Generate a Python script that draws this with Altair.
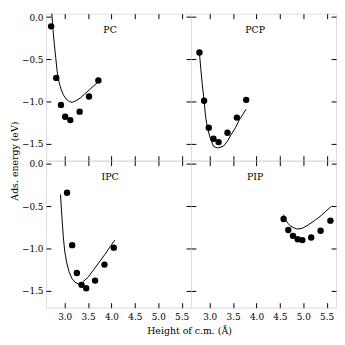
import altair as alt
import pandas as pd

# ---- data ----
x_ticks = [3.0, 3.5, 4.0, 4.5, 5.0, 5.5]
y_ticks = [0.0, -0.5, -1.0, -1.5]
x_domain = [2.6, 5.7]
y_domain = [-1.7, 0.04]

pc_pts_x = [2.71, 2.82, 2.92, 3.01, 3.12, 3.32, 3.52, 3.72]
pc_pts_y = [-0.11, -0.72, -1.04, -1.18, -1.22, -1.12, -0.94, -0.75]
pc_crv_x = [2.725, 2.75, 2.78, 2.81, 2.84, 2.88, 2.92, 2.97, 3.03, 3.10, 3.16, 3.24, 3.33, 3.43, 3.53, 3.63, 3.73]
pc_crv_y = [0.04, -0.15, -0.33, -0.49, -0.65, -0.77, -0.85, -0.92, -0.97, -1.0, -1.01, -0.99, -0.96, -0.91, -0.86, -0.81, -0.76]

pcp_pts_x = [2.78, 2.88, 2.98, 3.08, 3.19, 3.38, 3.58, 3.78]
pcp_pts_y = [-0.42, -0.99, -1.31, -1.44, -1.48, -1.37, -1.19, -0.98]
pcp_crv_x = [2.78, 2.81, 2.84, 2.88, 2.91, 2.95, 3.01, 3.08, 3.17, 3.29, 3.38, 3.46, 3.55, 3.63, 3.71, 3.78]
pcp_crv_y = [-0.42, -0.62, -0.79, -0.99, -1.17, -1.31, -1.43, -1.53, -1.55, -1.53, -1.47, -1.39, -1.31, -1.22, -1.15, -1.09]

ipc_pts_x = [3.05, 3.16, 3.26, 3.36, 3.46, 3.65, 3.85, 4.05]
ipc_pts_y = [-0.34, -0.96, -1.29, -1.43, -1.47, -1.38, -1.19, -0.99]
ipc_crv_x = [2.91, 2.94, 2.97, 3.00, 3.04, 3.09, 3.15, 3.22, 3.30, 3.38, 3.50, 3.62, 3.74, 3.86, 3.97, 4.07]
ipc_crv_y = [-0.36, -0.62, -0.86, -1.03, -1.16, -1.27, -1.35, -1.40, -1.42, -1.40, -1.34, -1.25, -1.16, -1.07, -0.98, -0.90]

pip_pts_x = [4.58, 4.68, 4.78, 4.88, 4.98, 5.17, 5.37, 5.58]
pip_pts_y = [-0.65, -0.78, -0.85, -0.89, -0.90, -0.87, -0.79, -0.67]
pip_crv_x = [4.58, 4.62, 4.67, 4.72, 4.78, 4.87, 4.98, 5.11, 5.24, 5.36, 5.48, 5.60]
pip_crv_y = [-0.60, -0.66, -0.70, -0.73, -0.75, -0.77, -0.76, -0.72, -0.67, -0.62, -0.56, -0.50]

panel_names = ["PC", "PCP", "IPC", "PIP"]
x_title = "Height of c.m. (Å)"
y_title = "Ads. energy (eV)"

FONT = "DejaVu Serif"
W, H = 147, 149
TICK = 5

xs = alt.Scale(domain=x_domain, nice=False, zero=False)
ys = alt.Scale(domain=y_domain, nice=False, zero=False)


def axis(orient, vals, labels, title=None, **kw):
    opts = dict(orient=orient, values=vals, format=".1f", tickSize=TICK, offset=-TICK,
                domain=False, grid=False, labels=labels, tickColor="black", tickWidth=1,
                labelColor="black", labelFont=FONT, labelFontSize=9, labelPadding=3,
                titleFont=FONT, titleFontSize=9.5, titleFontWeight="normal", titleColor="black")
    opts.update(kw)
    opts["title"] = title
    return alt.Axis(**opts)


def panel(name, px, py, cx, cy, xlab, ylab, xt=None, yt=None):
    pts = pd.DataFrame({"h": px, "e": py})
    crv = pd.DataFrame({"h": cx, "e": cy})
    lab = pd.DataFrame({"label": [name]})
    xkw = dict(labelPadding=5)
    ykw = {}
    if xt:
        xkw.update(titleX=W - 2, titlePadding=4)
    if yt:
        ykw = dict(titleY=H, titlePadding=2)
    line = alt.Chart(crv).mark_line(color="black", strokeWidth=1).encode(
        x=alt.X("h:Q", scale=xs, axis=axis("bottom", x_ticks, xlab, xt, **xkw)),
        y=alt.Y("e:Q", scale=ys, axis=axis("left", y_ticks, ylab, yt, **ykw)),
    )
    dots = alt.Chart(pts).mark_circle(color="black", opacity=1, size=42).encode(
        x=alt.X("h:Q", scale=xs, axis=None),
        y=alt.Y("e:Q", scale=ys, axis=None),
    )
    mirror = alt.Chart(pts).mark_circle(opacity=0).encode(
        x=alt.X("h:Q", scale=xs, axis=axis("top", x_ticks, False)),
        y=alt.Y("e:Q", scale=ys, axis=axis("right", y_ticks, False)),
    )
    txt = alt.Chart(lab).mark_text(font=FONT, fontSize=9.5, fill="black").encode(
        x=alt.value(65), y=alt.value(17), text="label:N"
    )
    return alt.layer(line, dots, mirror, txt).resolve_axis(x="independent", y="independent").properties(
        width=W, height=H
    )


p1 = panel(panel_names[0], pc_pts_x, pc_pts_y, pc_crv_x, pc_crv_y, False, True, yt=y_title)
p2 = panel(panel_names[1], pcp_pts_x, pcp_pts_y, pcp_crv_x, pcp_crv_y, False, False)
p3 = panel(panel_names[2], ipc_pts_x, ipc_pts_y, ipc_crv_x, ipc_crv_y, True, True, xt=x_title)
p4 = panel(panel_names[3], pip_pts_x, pip_pts_y, pip_crv_x, pip_crv_y, True, False)

chart = alt.concat(p1, p2, p3, p4, columns=2, spacing=0, bounds="flush").properties(
    padding={"left": 0.5, "top": 0.5, "right": 0, "bottom": 0}
).configure_view(stroke="black", strokeWidth=1).configure(background="white")

chart.save("out.html", embed_options={"renderer": "svg", "actions": False})
